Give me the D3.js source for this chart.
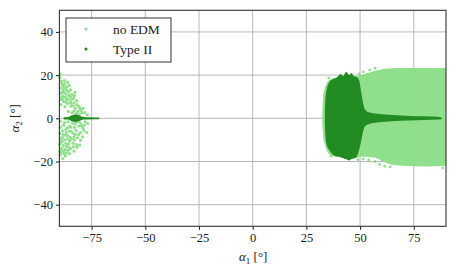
<!DOCTYPE html>
<html>
<head>
<meta charset="utf-8">
<script src="https://cdn.jsdelivr.net/npm/d3@7"></script>
<style>
  body { margin: 0; background: #fff; }
  svg text { font-family: "Liberation Serif", "DejaVu Serif", serif; }
</style>
</head>
<body>
<div id="container"></div>
<script>
// ticks
const xTicks = [-75, -50, -25, 0, 25, 50, 75];
const yTicks = [-40, -20, 0, 20, 40];

// "no EDM" dense cloud on the right, envelope
const lightRightX   = [32.4, 32.8, 33.6, 34.6, 36.2, 40, 48, 50, 53, 56, 58, 60, 62, 65, 70, 80, 90];
const lightRightTop = [2, 10, 14, 16.5, 18, 19, 19.5, 19.8, 20.8, 21.7, 22.2, 22.6, 23, 23.2, 23.3, 23.3, 23.3];
const lightRightBot = [-2, -8, -12, -15, -17, -18, -18.5, -17.8, -17.8, -18.2, -18.6, -19.6, -20.6, -21.5, -22, -22.3, -22];

// stray "no EDM" points around the right cloud
const lightStray = [
  [35.4, 18.6], [49.5, 20.6], [51.5, 21.5], [54.5, 22.4], [57, 23.2],
  [36.5, -17.6], [49, -19.2], [51.5, -18.8], [54, -19.3],
  [57, -20], [59, -21.3], [61.5, -22.2], [64, -22.6], [88.5, -23]
];

// "no EDM" scattered points on the left edge
const lightLeft = [
  [-89.6, 20.5], [-89.8, 18.8], [-89.2, 17.2], [-88.6, 15.4], [-87.6, 15.8], [-86.5, 14.6],
  [-85.4, 15.2], [-89.6, 14], [-88.2, 13.2], [-86.2, 12.6], [-84.8, 13.2], [-89.4, 11.4],
  [-88.4, 10.2], [-87, 11.2], [-85.6, 10.6], [-84.2, 11], [-83.4, 9.2], [-89.5, 8.6],
  [-88, 7.8], [-86.6, 8.6], [-85, 7.6], [-83.2, 7.2], [-82, 8.2], [-87.4, 5.4],
  [-84.6, 5.6], [-82.6, 4.6], [-81, 5.6], [-80, 3.6], [-79, 4.6], [-85.8, 3.2],
  [-84, 2.6], [-82.2, 2.2], [-80.6, 2], [-78.2, 2.6], [-77, 1.6], [-89, 9.6],
  [-86, -1.6], [-84, -2.2], [-82, -1.8], [-80, -2.6], [-78, -1.6], [-76.8, -2.4],
  [-88, -3.2], [-85.2, -3.6], [-83, -4.2], [-81, -3.6], [-79, -4.6], [-77.2, -6.6],
  [-89.5, -4.2], [-87, -5.2], [-84.6, -6], [-82.2, -5.6], [-80.2, -6.6], [-78.6, -5.6],
  [-89.7, -7], [-88.2, -7.6], [-86.2, -8], [-83.2, -8.6], [-81.6, -9], [-79.2, -8.6],
  [-89.5, -9.6], [-87.6, -10], [-85.2, -10.6], [-83.6, -11.6], [-82, -12.2], [-80.6, -12.4],
  [-89.8, -12], [-88.2, -12.6], [-86.6, -13], [-84.6, -14], [-81.8, -13.4], [-89.5, -14.6],
  [-88.2, -15.2], [-86.6, -16], [-89.7, -17], [-88.4, -18.6], [-87.2, -17.4], [-89, -11],
  [-86.8, -6.6], [-85, -8.8], [-88.6, -5.8], [-87.6, -2], [-89.6, -1.4], [-85.8, -12],
  [-84.2, 8.8], [-87.8, 12], [-86.2, 6.8], [-89.2, 6.4],
  [-88.9, 16.2], [-87.9, 14.4], [-86.9, 13.4], [-85.6, 12.2], [-88.8, 12], [-87.2, 9.8],
  [-85.8, 9], [-84.6, 10], [-83, 10.4], [-82.8, 12], [-88.4, 8.6], [-86.8, 7.4],
  [-84.6, 7], [-83.6, 5.8], [-82, 6.4], [-80.4, 4.6], [-81.4, 3.2], [-83.2, 3.4],
  [-79.4, 2.6], [-87.6, 17.4], [-86.2, 16.6],
  [-84.8, -4.2], [-82.8, -2.6], [-80.8, -1.4], [-79.6, -3.6], [-78.4, -3.2], [-83.8, -6.8],
  [-82.6, -7.4], [-81, -7.6], [-80.2, -10.2], [-88.6, -8.8], [-87.2, -7.8], [-86.2, -9.6],
  [-84.4, -9.6], [-83, -10], [-88.8, -10.6], [-87, -11.6], [-85.4, -13.6], [-83.4, -13.2],
  [-88.8, -13.8], [-87.4, -14.4], [-86, -14.8], [-89.2, -16], [-87.8, -16.4], [-89.8, -15.4],
  [-86.2, -4.4], [-85.4, -6], [-83.2, -15.2], [-85.2, -16.4]
];

// "Type II" dense blob and tail on the right
const darkRightX   = [33.6, 33.9, 34.5, 35.5, 37, 39, 41, 42, 43.5, 45, 46, 47, 48.2, 49.6, 50.4, 51.2, 52.2, 54, 58, 65, 73, 80, 86, 88];
const darkRightTop = [2, 9.5, 13.5, 16.5, 18, 18.8, 20.5, 19.6, 21.4, 20, 21, 19.6, 19.2, 17.5, 13, 8, 4.2, 2.8, 2.1, 1.5, 1.1, 0.9, 0.7, 0.4];
const darkRightBot = [-2, -9, -12.5, -14.5, -16.5, -17.6, -18, -18.4, -19, -19.5, -18.8, -18.6, -18, -14.5, -11, -7, -3.8, -2.7, -2, -1.4, -1, -0.8, -0.6, -0.4];

// "Type II" thin line on the left
const darkLeftX   = [-88, -86, -84.5, -83, -81.5, -80, -78.5, -76, -71.5];
const darkLeftTop = [0.5, 0.6, 1.3, 1.8, 1.6, 1, 0.6, 0.5, 0.4];
const darkLeftBot = [-0.5, -0.6, -1.3, -1.7, -1.5, -0.9, -0.6, -0.5, -0.4];

const lightColor = "#90df8c";
const darkColor = "#228b22";
const serif = "'Liberation Serif', 'DejaVu Serif', serif";

const width = 457, height = 273;
const svg = d3.select("#container").append("svg")
  .attr("width", width)
  .attr("height", height);

const x = d3.scaleLinear().domain([-90, 90]).range([59.4, 446]);
const y = d3.scaleLinear().domain([-50, 50]).range([226.3, 10.3]);

// grid
svg.append("g").selectAll("line").data(xTicks).enter().append("line")
  .attr("x1", d => x(d)).attr("x2", d => x(d))
  .attr("y1", y(-50)).attr("y2", y(50))
  .attr("stroke", "#b0b0b0").attr("stroke-width", 0.9);
svg.append("g").selectAll("line").data(yTicks).enter().append("line")
  .attr("x1", x(-90)).attr("x2", x(90))
  .attr("y1", d => y(d)).attr("y2", d => y(d))
  .attr("stroke", "#b0b0b0").attr("stroke-width", 0.9);

// build envelope rows
function rows(xs, top, bot) {
  return xs.map((v, i) => [v, top[i], bot[i]]);
}
const band = d3.area()
  .x(d => x(d[0]))
  .y0(d => y(d[2]))
  .y1(d => y(d[1]))
  .curve(d3.curveMonotoneX);

const plot = svg.append("g");

plot.append("path")
  .attr("d", band(rows(lightRightX, lightRightTop, lightRightBot)))
  .attr("fill", lightColor);

plot.selectAll("circle.stray").data(lightStray).enter().append("circle")
  .attr("class", "stray")
  .attr("cx", d => x(d[0])).attr("cy", d => y(d[1]))
  .attr("r", 1.4).attr("fill", lightColor);

plot.selectAll("circle.left").data(lightLeft).enter().append("circle")
  .attr("class", "left")
  .attr("cx", d => x(d[0])).attr("cy", d => y(d[1]))
  .attr("r", 1.6).attr("fill", lightColor);

plot.append("path")
  .attr("d", band(rows(darkRightX, darkRightTop, darkRightBot)))
  .attr("fill", darkColor);

plot.append("path")
  .attr("d", band(rows(darkLeftX, darkLeftTop, darkLeftBot)))
  .attr("fill", darkColor);

// axes
const xAxis = svg.append("g")
  .attr("transform", `translate(0,${y(-50)})`)
  .call(d3.axisBottom(x).tickValues(xTicks).tickSize(3.5).tickPadding(3)
    .tickFormat(d => d < 0 ? "\u2212" + Math.abs(d) : d));
const yAxis = svg.append("g")
  .attr("transform", `translate(${x(-90)},0)`)
  .call(d3.axisLeft(y).tickValues(yTicks).tickSize(3.5).tickPadding(3)
    .tickFormat(d => d < 0 ? "\u2212" + Math.abs(d) : d));
[xAxis, yAxis].forEach(a => {
  a.attr("font-family", serif);
  a.select(".domain").remove();
  a.selectAll("line").attr("stroke", "#000").attr("stroke-width", 0.9);
  a.selectAll("text").attr("fill", "#222")
    .style("font-family", serif).style("font-size", "12.5px");
});

// frame
svg.append("rect")
  .attr("x", x(-90)).attr("y", y(50))
  .attr("width", x(90) - x(-90)).attr("height", y(-50) - y(50))
  .attr("fill", "none").attr("stroke", "#333").attr("stroke-width", 1.1);

// axis labels
const xl = svg.append("text")
  .attr("x", x(0) + 0.5).attr("y", 261)
  .attr("text-anchor", "middle")
  .style("font-family", serif)
  .style("font-size", "13px").attr("fill", "#222");
xl.append("tspan").style("font-style", "italic").text("\u03b1");
xl.append("tspan").attr("dy", 3).style("font-size", "9px").text("1");
xl.append("tspan").attr("dy", -3).text(" [\u00b0]");

const yl = svg.append("text")
  .attr("transform", `translate(19,${y(0)}) rotate(-90)`)
  .attr("text-anchor", "middle")
  .style("font-family", serif)
  .style("font-size", "13px").attr("fill", "#222");
yl.append("tspan").style("font-style", "italic").text("\u03b1");
yl.append("tspan").attr("dy", 3).style("font-size", "9px").text("2");
yl.append("tspan").attr("dy", -3).text(" [\u00b0]");

// legend
const legendNames = ["no EDM", "Type II"];
const legendColors = [lightColor, darkColor];
const legend = svg.append("g").attr("transform", "translate(66,18)");
legend.append("rect")
  .attr("width", 105).attr("height", 44)
  .attr("fill", "#fff").attr("stroke", "#333").attr("stroke-width", 1);
legendNames.forEach((name, i) => {
  legend.append("circle")
    .attr("cx", 20).attr("cy", 11 + i * 20).attr("r", 1.6)
    .attr("fill", legendColors[i]);
  legend.append("text")
    .attr("x", 47).attr("y", 15.5 + i * 20)
    .style("font-family", serif)
    .style("font-size", "13.5px").attr("fill", "#222")
    .text(name);
});
</script>
</body>
</html>
